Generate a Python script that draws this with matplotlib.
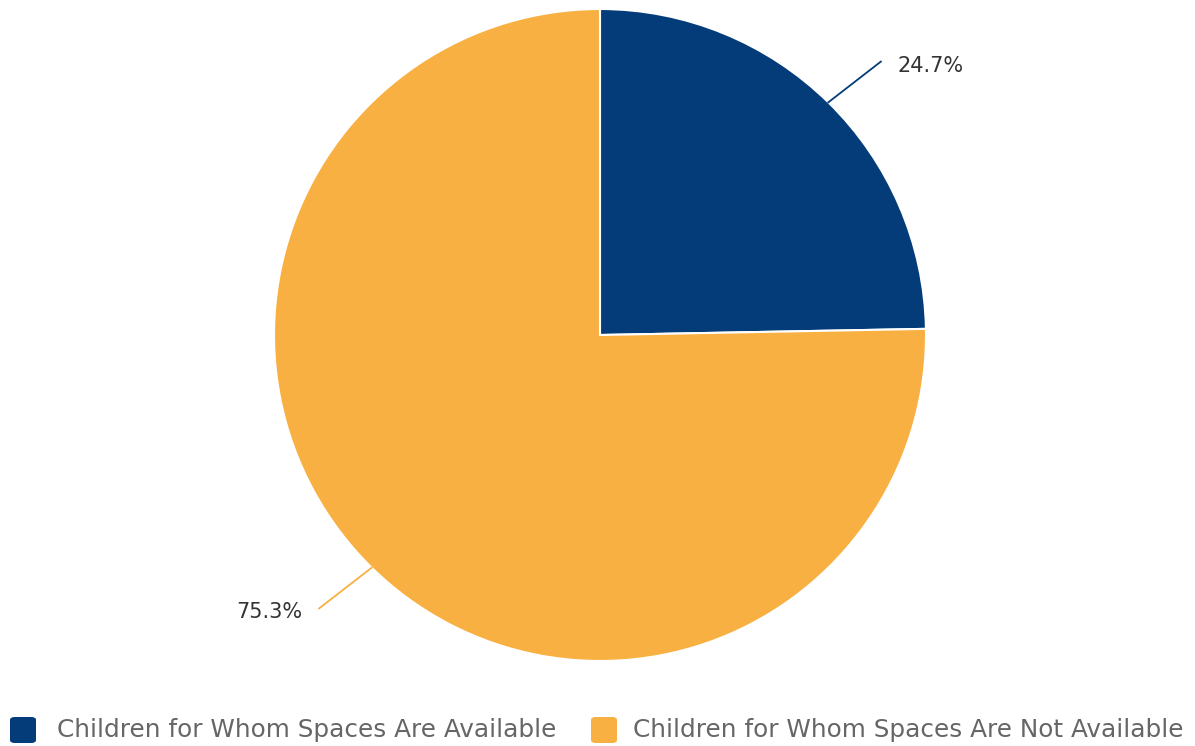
import matplotlib
matplotlib.use("Agg")
import matplotlib.pyplot as plt
from matplotlib.patches import FancyBboxPatch
import numpy as np

categories = ["Children for Whom Spaces Are Available",
              "Children for Whom Spaces Are Not Available"]
values = [24.7, 75.3]
labels = ["24.7%", "75.3%"]
colors = ["#033c78", "#f9b042"]

W, H = 1195, 746
fig = plt.figure(figsize=(W / 100, H / 100), dpi=100)

# pie axes: center (600,335) px, radius 326 px
cx, cy, r = 600, 335, 326
ax = fig.add_axes([(cx - r) / W, (H - cy - r) / H, 2 * r / W, 2 * r / H])
wedges, _ = ax.pie(values, colors=colors, startangle=90, counterclock=False,
                   radius=1, wedgeprops=dict(edgecolor="white", linewidth=1.5))
ax.set_xlim(-1, 1)
ax.set_ylim(-1, 1)
ax.set_aspect("equal")
ax.axis("off")

# labels with connectors
total = sum(values)
start = 0.0
for v, lab, col in zip(values, labels, colors):
    mid = (start + v / 2) / total * 2 * np.pi
    start += v
    dx, dy = np.sin(mid), np.cos(mid)
    p0 = (dx * 1.0, dy * 1.0)
    sign = 1 if dx > 0 else -1
    p1 = (dx * 1.23, dy * 1.175)
    ax.plot([p0[0], p1[0]], [p0[1], p1[1]], color=col, lw=1.3, clip_on=False)
    ax.text(p1[0] + sign * 0.05, p1[1] - 0.012, lab,
            ha="left" if sign > 0 else "right",
            va="center", fontsize=15, color="#333333", clip_on=False)

# legend
leg_y = 730
items = [(10, 57), (591, 633)]
for (sx, tx), cat, col in zip(items, categories, colors):
    sq = 26
    fig.patches.append(FancyBboxPatch(((sx) / W, (H - leg_y - sq / 2) / H),
                                      sq / W, sq / H,
                                      boxstyle="round,pad=0,rounding_size=0.004",
                                      transform=fig.transFigure, facecolor=col,
                                      edgecolor="none"))
    fig.text(tx / W, (H - leg_y) / H, cat, ha="left", va="center",
             fontsize=17.8, color="#666666")

fig.savefig("out.png", dpi=100, facecolor="white")
